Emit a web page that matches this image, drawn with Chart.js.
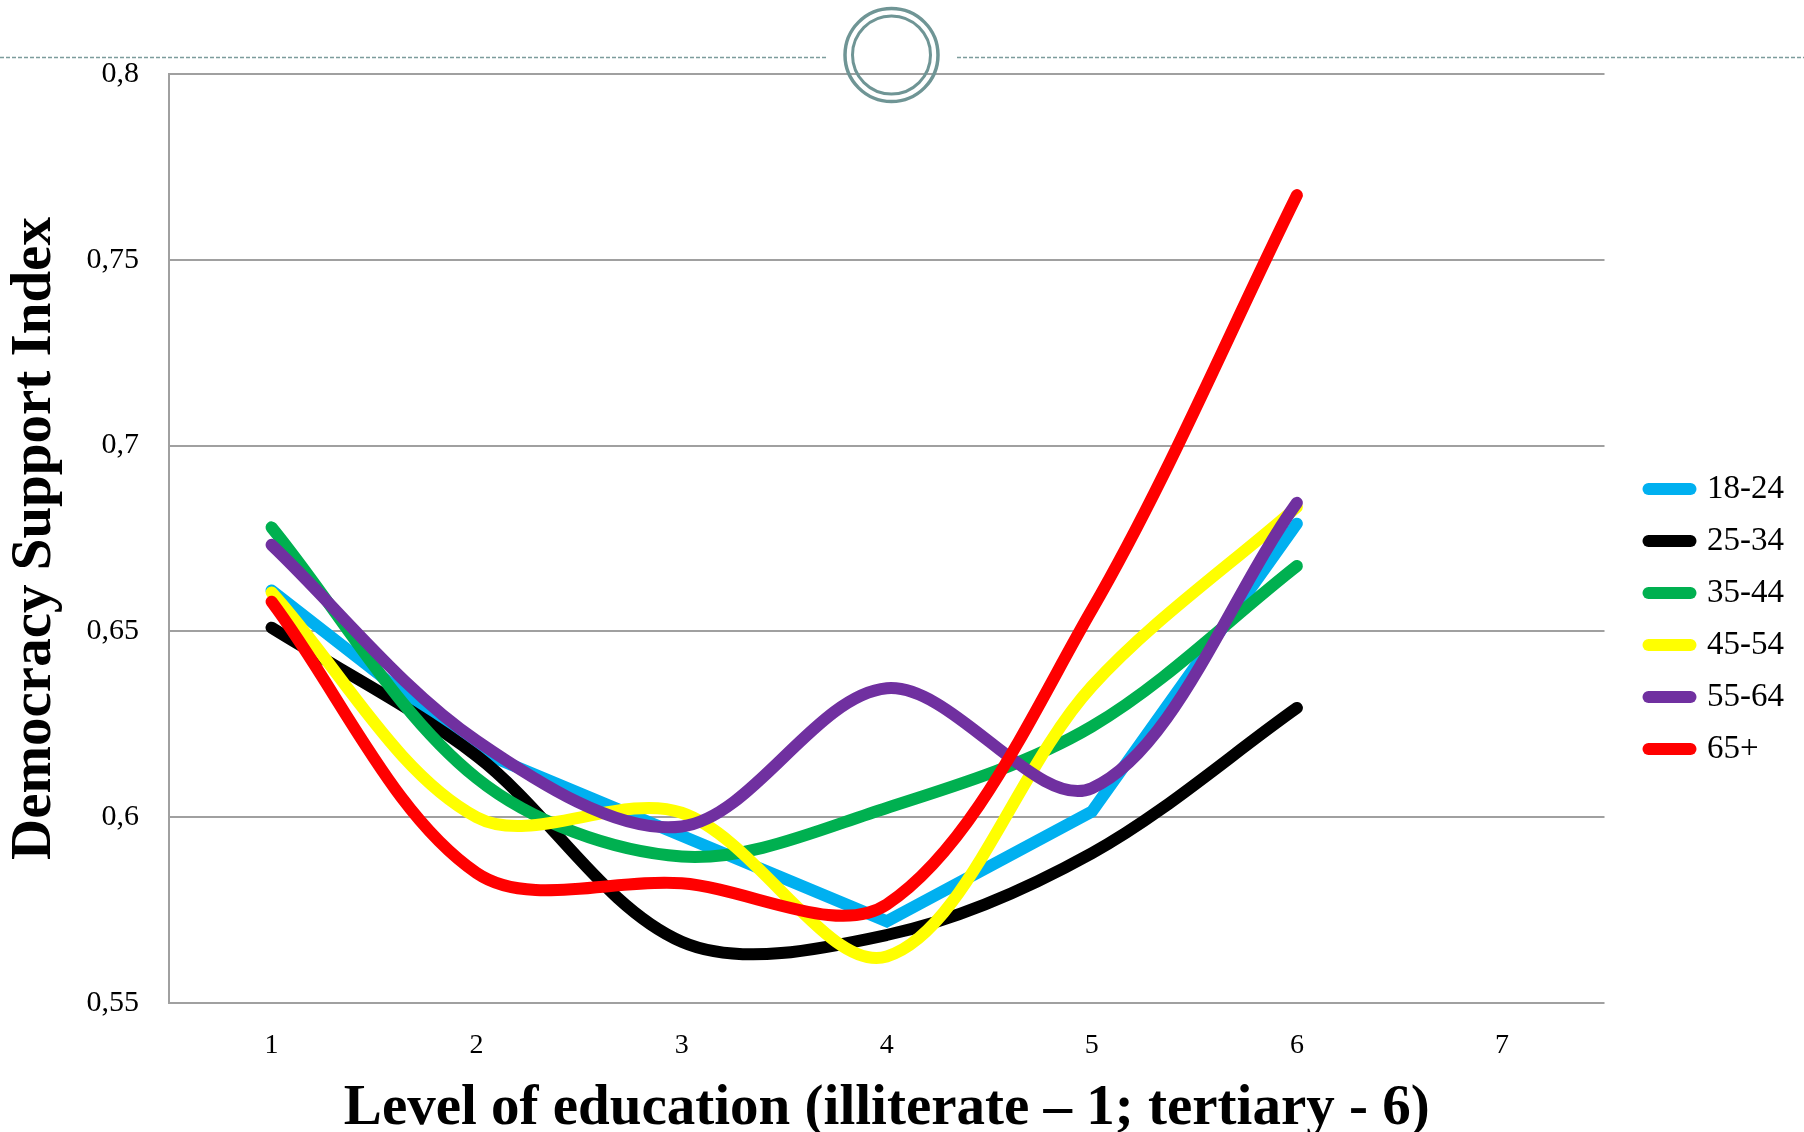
<!DOCTYPE html>
<html><head><meta charset="utf-8">
<script src="https://cdn.jsdelivr.net/npm/chart.js@4.4.1/dist/chart.umd.min.js"></script>
<style>html,body{margin:0;padding:0;background:#fff;overflow:hidden}#wrap{width:1804px;height:1132px}</style>
</head><body><div id="wrap"><canvas id="c" width="1804" height="1132"></canvas></div>
<script>
const categories = ['1', '2', '3', '4', '5', '6', '7'];
const seriesNames = ['18-24', '25-34', '35-44', '45-54', '55-64', '65+'];
const s18_24 = [0.661, 0.618, 0.595, 0.572, 0.6015, 0.679];
const s25_34 = [0.651, 0.6165, 0.5665, 0.5683, 0.5903, 0.6294];
const s35_44 = [0.678, 0.6105, 0.5894, 0.6025, 0.6244, 0.6676];
const s45_54 = [0.6605, 0.600, 0.6012, 0.5625, 0.6352, 0.6835];
const s55_64 = [0.6733, 0.6206, 0.5975, 0.6347, 0.6078, 0.6846];
const s65plus = [0.658, 0.585, 0.5822, 0.5765, 0.6558, 0.7674];
const yTickValues = [0.55, 0.6, 0.65, 0.7, 0.75, 0.8];
const yTickLabels = ['0,55', '0,6', '0,65', '0,7', '0,75', '0,8'];
const seriesColors = ['#00b0f0', '#000000', '#00b050', '#ffff00', '#7030a0', '#ff0000'];
const seriesTension = [0, 0.33, 0.33, 0.33, 0.33, 0.33];
const allSeries = [s18_24, s25_34, s35_44, s45_54, s55_64, s65plus];

const SERIF = "'Liberation Serif', 'DejaVu Serif', serif";

const decoPlugin = {
  id: 'deco',
  afterDraw(chart) {
    const ctx = chart.ctx;
    ctx.save();
    ctx.strokeStyle = '#7c9c9c';
    ctx.lineWidth = 1.5;
    ctx.setLineDash([4, 2]);
    ctx.beginPath();
    ctx.moveTo(0, 57.5); ctx.lineTo(826, 57.5);
    ctx.moveTo(957, 57.5); ctx.lineTo(1804, 57.5);
    ctx.stroke();
    ctx.setLineDash([]);
    ctx.strokeStyle = '#6f9595';
    ctx.lineWidth = 3.5;
    ctx.beginPath(); ctx.arc(891.5, 55, 46.5, 0, Math.PI * 2); ctx.stroke();
    ctx.lineWidth = 3;
    ctx.beginPath(); ctx.arc(891.5, 55, 39, 0, Math.PI * 2); ctx.stroke();
    ctx.restore();
  }
};

const datasets = seriesNames.map((name, i) => ({
  label: name,
  data: allSeries[i],
  yAxisID: 'y',
  xAxisID: 'x',
  borderColor: seriesColors[i],
  backgroundColor: seriesColors[i],
  borderWidth: 12,
  borderCapStyle: 'round',
  borderJoinStyle: 'miter',
  pointRadius: 0,
  pointHoverRadius: 0,
  tension: seriesTension[i],
  fill: false,
  order: seriesNames.length - 1 - i
}));

new Chart(document.getElementById('c'), {
  type: 'line',
  data: { labels: categories, datasets },
  plugins: [decoPlugin],
  options: {
    responsive: false,
    animation: false,
    devicePixelRatio: 1,
    layout: { padding: { top: 74, right: 10, bottom: 0, left: 0 } },
    plugins: {
      tooltip: { enabled: false },
      legend: {
        position: 'right',
        align: 'center',
        title: { display: true, text: ' ', font: { size: 10 }, padding: { top: 10, bottom: 10 } },
        labels: {
          usePointStyle: true,
          pointStyle: 'line',
          pointStyleWidth: 42,
          font: { family: SERIF, size: 33 },
          color: '#000',
          padding: 19,
          sort: (a, b) => a.datasetIndex - b.datasetIndex,
          generateLabels: (chart) => Chart.defaults.plugins.legend.labels.generateLabels(chart).map(it =>
            Object.assign(it, { lineCap: 'round', lineWidth: 12, strokeStyle: seriesColors[it.datasetIndex] }))
        }
      }
    },
    scales: {
      x: {
        type: 'category',
        offset: true,
        grid: { display: false, drawTicks: false },
        border: { display: false },
        ticks: { font: { family: SERIF, size: 28 }, color: '#000', padding: 26 },
        title: {
          display: true,
          text: 'Level of education (illiterate – 1; tertiary - 6)',
          font: { family: SERIF, size: 57, weight: 'bold', lineHeight: 0.8 },
          color: '#000',
          padding: { top: 0, bottom: 0 }
        },
        afterFit: (s) => { s.height = 129; }
      },
      y: {
        min: 0.55,
        max: 0.8,
        afterBuildTicks: (s) => { s.ticks = yTickValues.map(v => ({ value: v })); },
        ticks: {
          font: { family: SERIF, size: 30 },
          color: '#000',
          padding: 30,
          callback: (v, idx) => yTickLabels[idx]
        },
        grid: { color: '#a0a0a0', lineWidth: 2, drawTicks: false },
        border: { display: true, color: '#a0a0a0', width: 2 },
        title: {
          display: true,
          text: 'Democracy Support Index',
          font: { family: SERIF, size: 57, weight: 'bold', lineHeight: 1 },
          color: '#000',
          padding: { top: 7, bottom: 0 }
        },
        afterFit: (s) => { s.width = 169; }
      },
      yPad: {
        type: 'linear',
        position: 'right',
        display: true,
        grid: { display: false, drawTicks: false },
        border: { display: false },
        ticks: { display: false },
        afterFit: (s) => { s.width = 25; }
      }
    }
  }
});
</script></body></html>
